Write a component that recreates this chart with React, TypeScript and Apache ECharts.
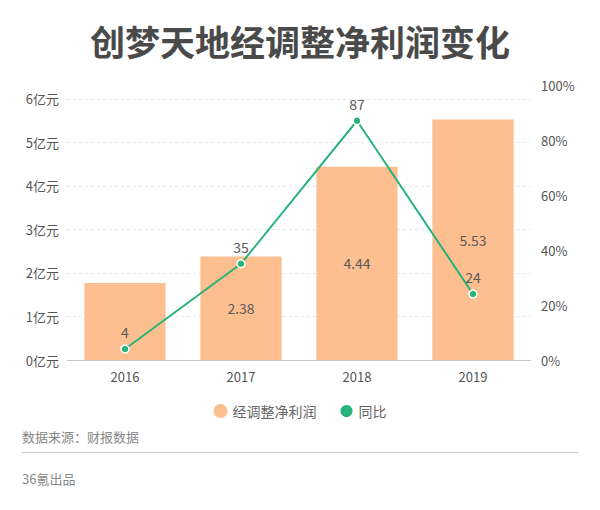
import React, { useEffect, useRef } from "react";
import * as echarts from "echarts";

const title = "创梦天地经调整净利润变化";
const years = ["2016", "2017", "2018", "2019"];
const profit = [1.77, 2.38, 4.44, 5.53];
const showProfitLabel = [false, true, true, true];
const growth = [4, 35, 87, 24];
const seriesNames = ["经调整净利润", "同比"];
const sourceText = "数据来源：财报数据";
const brandText = "36氪出品";

const FONT = '"Noto Sans CJK SC", "Noto Sans", sans-serif';

export default function App() {
  const ref = useRef<HTMLDivElement>(null);
  useEffect(() => {
    if (!ref.current) return;
    const chart = echarts.init(ref.current, undefined, { renderer: "svg" });
    chart.setOption({
      animation: false,
      backgroundColor: "#ffffff",
      textStyle: { fontFamily: FONT },
      title: {
        text: title,
        left: "center",
        top: 18,
        textStyle: { fontSize: 35, fontWeight: "bold", color: "#4a4a4a", fontFamily: FONT },
      },
      legend: {
        top: 398,
        left: "center",
        icon: "circle",
        itemWidth: 14,
        itemHeight: 14,
        itemGap: 22,
        textStyle: { fontSize: 14, color: "#666", fontFamily: FONT },
        data: seriesNames,
      },
      grid: { left: 67, right: 69, top: 85, bottom: 150 },
      xAxis: {
        type: "category",
        data: years,
        axisLine: { lineStyle: { color: "#c8c8c8" } },
        axisTick: { alignWithLabel: true, lineStyle: { color: "#d0d0d0" } },
        axisLabel: { fontSize: 13, color: "#555", margin: 10, fontFamily: FONT },
      },
      yAxis: [
        {
          type: "value",
          min: 0,
          max: 6.32,
          interval: 1,
          axisLine: { show: false },
          axisTick: { show: false },
          axisLabel: {
            fontSize: 13,
            color: "#555",
            showMaxLabel: false,
            fontFamily: FONT,
            formatter: (v: number) => (Number.isInteger(v) ? v + "亿元" : ""),
          },
          splitLine: {
            show: true,
            showMaxLine: false,
            lineStyle: { color: "#e8e8e8", type: [3, 3] },
          },
        },
        {
          type: "value",
          min: 0,
          max: 100,
          interval: 20,
          axisLine: { show: false },
          axisTick: { show: false },
          axisLabel: { fontSize: 13, color: "#555", formatter: "{value}%", fontFamily: FONT, margin: 10 },
          splitLine: { show: false },
        },
      ],
      series: [
        {
          name: seriesNames[0],
          type: "bar",
          barWidth: "70%",
          itemStyle: { color: "#fdbf8f" },
          label: { show: true, position: "inside", fontSize: 14, color: "#5a5a5a", fontFamily: FONT },
          data: profit.map((v, i) => ({ value: v, label: { show: showProfitLabel[i] } })),
        },
        {
          name: seriesNames[1],
          type: "line",
          yAxisIndex: 1,
          symbol: "circle",
          symbolSize: 8,
          itemStyle: { color: "#27b37a", borderColor: "#ffffff", borderWidth: 1.5 },
          lineStyle: { color: "#27b37a", width: 2 },
          label: { show: true, position: "top", fontSize: 14, color: "#5a5a5a", fontFamily: FONT },
          data: growth,
        },
      ],
      graphic: [
        {
          type: "text",
          left: 22,
          top: 430,
          style: { text: sourceText, fontSize: 13, fill: "#888", fontFamily: FONT },
        },
        {
          type: "rect",
          left: 22,
          top: 452,
          shape: { width: 556, height: 1 },
          style: { fill: "#cccccc" },
        },
        {
          type: "text",
          left: 22,
          top: 472,
          style: { text: brandText, fontSize: 13, fill: "#888", fontFamily: FONT },
        },
      ],
    });
    return () => chart.dispose();
  }, []);
  return (
    <div
      ref={ref}
      style={{ position: "absolute", left: 0, top: 0, width: 600, height: 510 }}
    />
  );
}
